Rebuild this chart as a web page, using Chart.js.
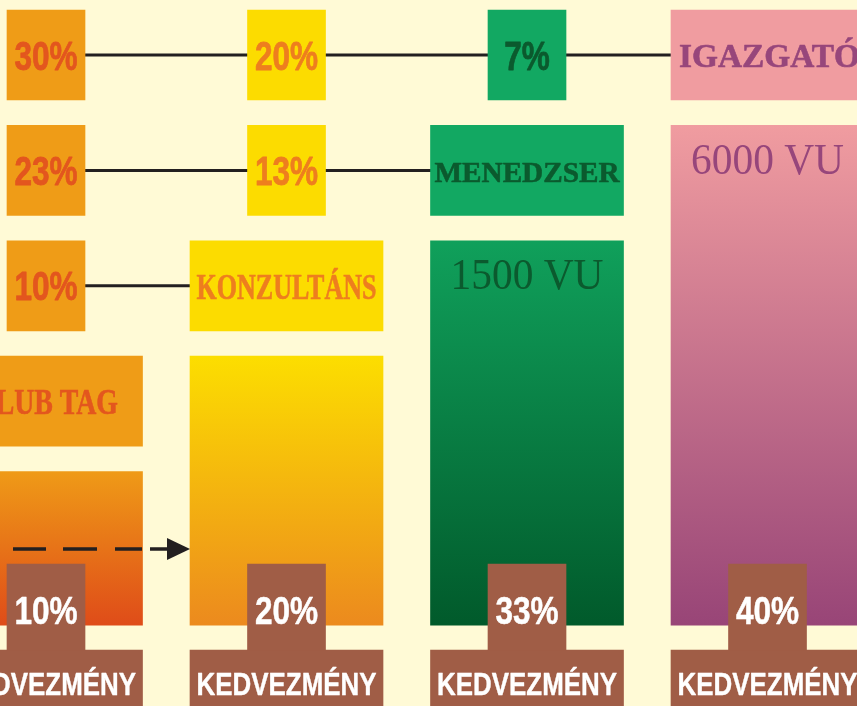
<!DOCTYPE html>
<html>
<head>
<meta charset="utf-8">
<script src="https://cdn.jsdelivr.net/npm/chart.js@4/dist/chart.umd.min.js"></script>
<style>
  html, body { margin: 0; padding: 0; background: #FFFAD6; overflow: hidden; }
  canvas { display: block; }
</style>
</head>
<body>
<canvas id="c" width="857" height="706"></canvas>
<script>
// ---------- DATA ----------
const tiers = ['KLUB TAG', 'KONZULTÁNS', 'MENEDZSER', 'IGAZGATÓ'];
const tierLevels = [1, 2, 3, 4];               // column height of each tier (in rows)
const discounts = [10, 20, 33, 40];            // KEDVEZMÉNY %
const entryVU = [null, null, 1500, 6000];      // VU threshold shown in the column
const bonusKonzultansRow = [10];               // row of KONZULTÁNS
const bonusMenedzserRow = [23, 13];            // row of MENEDZSER
const bonusIgazgatoRow = [30, 20, 7];          // row of IGAZGATÓ
const discountLabel = 'KEDVEZMÉNY';
const vuUnit = 'VU';

// ---------- STYLE / LAYOUT ----------
const BOX_HALF = 0.39, BASE = 0.06;
const BROWN_TOP = 0.589, BROWN_SPLIT = -0.156, BROWN_BOTTOM = -0.9;
const ARROW_LEVEL = 0.72;
const WIDE = 193, NARROW = 78;
const BG = '#FFFAD6';
const tierFill = ['#EF9C17', '#FCDC00', '#12A862', '#F09CA0'];
const tierText = ['#E3561E', '#EE7E1E', '#0B5A2E', '#97467B'];
const gradTop = ['#EF9A17', '#FCDE00', '#10A05B', '#F09CA0'];
const gradBottom = ['#DF4C19', '#EC8A1E', '#015A2B', '#984577'];
const BROWN = '#A05D46';
const LINE = '#231F20';
const labelSize = [35, 35, 30, 33];
const labelWidth = [144, 180, 185, 181];
const labelShift = [0, 0, 0, 2];

const bonusRows = [
  { level: 3, values: bonusKonzultansRow },
  { level: 4, values: bonusMenedzserRow },
  { level: 5, values: bonusIgazgatoRow }
];

const SANS = '"Liberation Sans", Arial, sans-serif';
const SERIF = '"Liberation Serif", "Times New Roman", serif';

function drawText(ctx, text, x, capCenterY, o) {
  ctx.save();
  ctx.font = `${o.weight || 'normal'} ${o.size}px ${o.family}`;
  const w = ctx.measureText(text).width;
  const sx = o.width ? o.width / w : (o.scaleX || 1);
  const capRatio = o.family === SANS ? 0.716 : 0.662;
  ctx.translate(x, capCenterY + o.size * capRatio / 2);
  ctx.scale(sx, 1);
  ctx.textAlign = 'center';
  ctx.textBaseline = 'alphabetic';
  ctx.fillStyle = o.color;
  ctx.fillText(text, 0, 0);
  if (o.heavy) {
    ctx.strokeStyle = o.color;
    ctx.lineWidth = o.heavy;
    ctx.lineJoin = 'round';
    ctx.strokeText(text, 0, 0);
  }
  ctx.restore();
}

// ---------- DATASETS ----------
const connectorSets = bonusRows.map(row => ({
  type: 'line',
  data: [{ x: 0, y: row.level }, { x: row.values.length, y: row.level }],
  borderColor: LINE,
  borderWidth: 3,
  pointRadius: 0,
  fill: false,
  order: 10
}));

const bonusData = [];
const bonusColors = [];
bonusRows.forEach(row => row.values.forEach((v, i) => {
  bonusData.push({ x: i, y: [row.level - BOX_HALF, row.level + BOX_HALF] });
  bonusColors.push(tierFill[i]);
}));

const barCommon = { stack: 'all', borderWidth: 0, grouped: true };

const datasets = [
  ...connectorSets,
  { ...barCommon, label: 'bonus', data: bonusData, backgroundColor: bonusColors, barThickness: NARROW, order: 5 },
  { ...barCommon, label: 'labels',
    data: tiers.map((t, i) => ({ x: i, y: [tierLevels[i] + 1 - BOX_HALF, tierLevels[i] + 1 + BOX_HALF] })),
    backgroundColor: tierFill, barThickness: WIDE, order: 5 },
  { ...barCommon, label: 'columns',
    data: tiers.map((t, i) => ({ x: i, y: [BASE, tierLevels[i] + BOX_HALF] })),
    backgroundColor: (c) => {
      if (c.type !== 'data') return tierFill[0];
      const i = c.dataIndex;
      const ys = c.chart.scales.y;
      if (!ys) return gradTop[i];
      const top = ys.getPixelForValue(tierLevels[i] + BOX_HALF);
      const bot = ys.getPixelForValue(BASE);
      if (!isFinite(top) || !isFinite(bot) || top === bot) return gradTop[i];
      const g = c.chart.ctx.createLinearGradient(0, top, 0, bot);
      g.addColorStop(0, gradTop[i]);
      g.addColorStop(1, gradBottom[i]);
      return g;
    },
    barThickness: WIDE, order: 4 },
  { ...barCommon, label: 'discountTop',
    data: discounts.map((d, i) => ({ x: i, y: [BROWN_SPLIT, BROWN_TOP] })),
    backgroundColor: BROWN, barThickness: NARROW, order: 2 },
  { ...barCommon, label: 'discountBase',
    data: discounts.map((d, i) => ({ x: i, y: [BROWN_BOTTOM, BROWN_SPLIT] })),
    backgroundColor: BROWN, barThickness: WIDE, order: 2 }
];

// ---------- PLUGINS ----------
const bgPlugin = {
  id: 'bg',
  beforeDraw(chart) {
    const ctx = chart.ctx;
    ctx.save();
    ctx.fillStyle = BG;
    ctx.fillRect(0, 0, chart.width, chart.height);
    ctx.restore();
  }
};

const textPlugin = {
  id: 'texts',
  afterDatasetsDraw(chart) {
    const ctx = chart.ctx;
    const xs = chart.scales.x, ys = chart.scales.y;

    bonusRows.forEach(row => row.values.forEach((v, i) => {
      drawText(ctx, v + '%', xs.getPixelForValue(i), ys.getPixelForValue(row.level),
        { family: SANS, weight: 'bold', size: 41, scaleX: 0.77, color: tierText[i], heavy: 0.8 });
    }));

    tiers.forEach((t, i) => {
      const cx = xs.getPixelForValue(i);
      drawText(ctx, t, cx + labelShift[i], ys.getPixelForValue(tierLevels[i] + 1) + 1.5,
        { family: SERIF, weight: 'bold', size: labelSize[i], width: labelWidth[i], color: tierText[i], heavy: 0.6 });
      if (entryVU[i] != null) {
        drawText(ctx, entryVU[i] + ' ' + vuUnit, cx, ys.getPixelForValue(tierLevels[i] + BOX_HALF) + 34,
          { family: SERIF, weight: 'normal', size: 44, width: 153, color: tierText[i] });
      }
      const brownMid = (ys.getPixelForValue(BROWN_TOP) + ys.getPixelForValue(BROWN_SPLIT)) / 2;
      drawText(ctx, discounts[i] + '%', cx, brownMid + 3,
        { family: SANS, weight: 'bold', size: 39, scaleX: 0.81, color: '#FFFFFF', heavy: 0.5 });
      drawText(ctx, discountLabel, cx, ys.getPixelForValue(BROWN_SPLIT) + 33.5,
        { family: SANS, weight: 'bold', size: 32, width: 180, color: '#FFFFFF', heavy: 0.4 });
    });

    // upgrade arrow from tier 0 to tier 1
    const ay = ys.getPixelForValue(ARROW_LEVEL);
    const ax0 = xs.getPixelForValue(0) - 33;
    const tip = xs.getPixelForValue(1) - WIDE / 2;
    ctx.save();
    ctx.strokeStyle = LINE;
    ctx.fillStyle = LINE;
    ctx.lineWidth = 3.5;
    ctx.setLineDash([33, 17, 34, 18, 27, 8, 80]);
    ctx.beginPath();
    ctx.moveTo(ax0, ay);
    ctx.lineTo(tip - 20, ay);
    ctx.stroke();
    ctx.setLineDash([]);
    ctx.beginPath();
    ctx.moveTo(tip, ay);
    ctx.lineTo(tip - 23, ay - 11);
    ctx.lineTo(tip - 23, ay + 11);
    ctx.closePath();
    ctx.fill();
    ctx.restore();
  }
};

new Chart(document.getElementById('c'), {
  type: 'bar',
  data: { datasets },
  options: {
    responsive: false,
    maintainAspectRatio: false,
    animation: false,
    events: [],
    layout: { padding: 0 },
    plugins: { legend: { display: false }, tooltip: { enabled: false } },
    scales: {
      x: { type: 'linear', display: false, min: -0.1913, max: 3.3721, offset: false, stacked: true },
      y: { type: 'linear', display: false, min: -0.6412, max: 5.4766, stacked: false }
    }
  },
  plugins: [bgPlugin, textPlugin]
});
</script>
</body>
</html>
